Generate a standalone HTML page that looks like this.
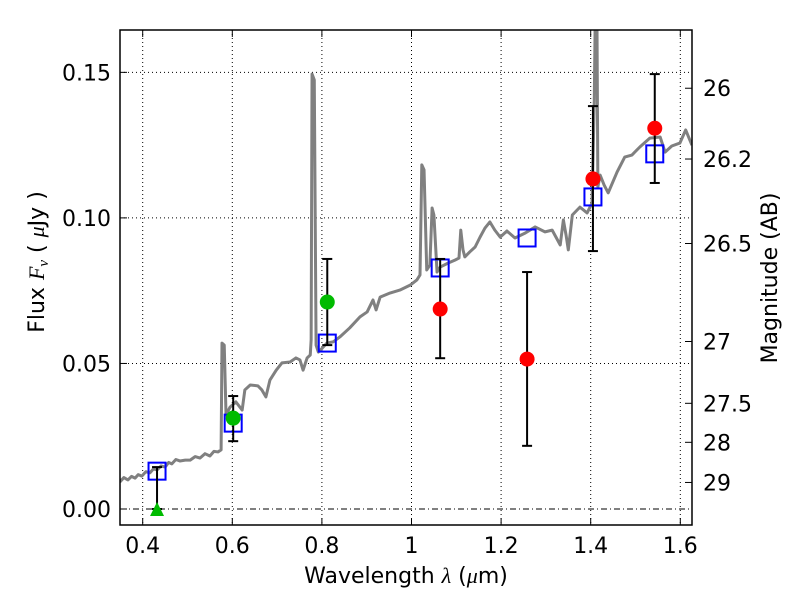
<!DOCTYPE html>
<html><head><meta charset="utf-8"><style>
html,body{margin:0;padding:0;background:#fff;}
svg{display:block;font-family:"DejaVu Sans","Liberation Sans",sans-serif;}
</style></head><body>
<svg id="chart" width="800" height="600" viewBox="0 0 800 600" xmlns="http://www.w3.org/2000/svg">
<defs><clipPath id="pc"><rect x="120" y="30" width="572" height="495"/></clipPath></defs>
<rect x="0" y="0" width="800" height="600" fill="#fff"/>
<g id="grid"></g>
<g id="plot" clip-path="url(#pc)"></g>
<rect x="120" y="30" width="572" height="495" fill="none" stroke="#000" stroke-width="1.5"/>
<g id="axes"></g>
<text x="406" y="583" font-size="22" text-anchor="middle">Wavelength  <tspan font-family="Liberation Serif,serif" font-style="italic">λ</tspan> (<tspan font-family="Liberation Serif,serif" font-style="italic">μ</tspan>m)</text>
<text transform="translate(44,262) rotate(-90)" font-size="22" text-anchor="middle">Flux  <tspan font-family="Liberation Serif,serif" font-style="italic">F<tspan font-size="15" dy="4">ν</tspan></tspan><tspan dy="-4">  (  </tspan><tspan font-family="Liberation Serif,serif" font-style="italic">μ</tspan>Jy )</text>
<text transform="translate(777,278) rotate(-90)" font-size="22" text-anchor="middle">Magnitude (AB)</text>
</svg>
<script>
const specLam=[0.349,0.358,0.367,0.375,0.383,0.390,0.398,0.407,0.416,0.424,0.432,0.441,0.450,0.458,0.465,0.474,0.483,0.495,0.506,0.517,0.528,0.539,0.550,0.559,0.568,0.575,0.577,0.582,0.586,0.595,0.608,0.622,0.628,0.640,0.657,0.666,0.675,0.684,0.698,0.711,0.729,0.742,0.751,0.758,0.767,0.774,0.776,0.778,0.783,0.787,0.792,0.801,0.811,0.825,0.840,0.862,0.885,0.901,0.914,0.921,0.930,0.952,0.974,0.997,1.012,1.019,1.023,1.028,1.034,1.041,1.046,1.050,1.057,1.064,1.082,1.097,1.106,1.110,1.115,1.119,1.130,1.142,1.153,1.164,1.175,1.186,1.198,1.213,1.231,1.254,1.276,1.298,1.314,1.332,1.339,1.345,1.350,1.359,1.376,1.392,1.403,1.408,1.410,1.414,1.416,1.421,1.430,1.439,1.459,1.476,1.492,1.510,1.532,1.555,1.566,1.581,1.599,1.612,1.626];
const specFlux=[0.0093,0.0108,0.0100,0.0112,0.0106,0.0118,0.0113,0.0128,0.0124,0.0138,0.0134,0.0148,0.0144,0.0160,0.0155,0.0170,0.0165,0.0168,0.0168,0.0180,0.0175,0.0190,0.0182,0.0198,0.0196,0.0203,0.0570,0.0563,0.0323,0.0350,0.0368,0.0340,0.0409,0.0426,0.0423,0.0409,0.0385,0.0443,0.0477,0.0502,0.0505,0.0519,0.0512,0.0477,0.0519,0.0529,0.0581,0.1494,0.1474,0.0563,0.0539,0.0553,0.0570,0.0574,0.0591,0.0622,0.0660,0.0677,0.0718,0.0684,0.0728,0.0742,0.0752,0.0769,0.0787,0.0804,0.1182,0.1165,0.0821,0.0838,0.1034,0.1010,0.0814,0.0831,0.0845,0.0855,0.0862,0.0958,0.0890,0.0866,0.0883,0.0900,0.0934,0.0965,0.0986,0.0958,0.0934,0.0955,0.0931,0.0948,0.0969,0.0952,0.0958,0.0907,0.0993,0.0941,0.0890,0.1010,0.1037,0.1017,0.1051,0.1405,0.168,0.168,0.1106,0.1147,0.1113,0.1086,0.1158,0.1209,0.1216,0.1244,0.1274,0.1278,0.1226,0.1247,0.1257,0.1302,0.1250];
const modelLam=[0.432,0.602,0.812,1.064,1.258,1.405,1.543];
const modelFlux=[0.0130,0.0295,0.0570,0.0828,0.0931,0.1072,0.1220];
const greenLam=[0.602,0.812];
const greenFlux=[0.0312,0.0711];
const greenLo=[0.0233,0.0563];
const greenHi=[0.0388,0.0859];
const redLam=[1.064,1.258,1.405,1.543];
const redFlux=[0.0687,0.0515,0.1134,0.1308];
const redLo=[0.0518,0.0217,0.0886,0.1120];
const redHi=[0.0859,0.0814,0.1384,0.1494];
const limLam=[0.432];
const limFlux=[0.0];
const limHi=[0.0144];
const xTicks=[0.4,0.6,0.8,1.0,1.2,1.4,1.6];
const xTickLabels=["0.4","0.6","0.8","1","1.2","1.4","1.6"];
const yTicks=[0,0.05,0.10,0.15];
const yTickLabels=["0.00","0.05","0.10","0.15"];
const magTicks=[26,26.2,26.5,27,27.5,28,29];
const magTickLabels=["26","26.2","26.5","27","27.5","28","29"];

const NS="http://www.w3.org/2000/svg";
const X=v=>142.7+(v-0.4)*448;
const Y=v=>509-v*2911;
const magToFlux=m=>Math.pow(10,(23.9-m)/2.5);
function mk(tag,attrs,parent){const e=document.createElementNS(NS,tag);for(const k in attrs)e.setAttribute(k,attrs[k]);parent.appendChild(e);return e;}
const grid=document.getElementById('grid'),plot=document.getElementById('plot'),axes=document.getElementById('axes');

xTicks.forEach((t,i)=>{
  const g=mk('line',{x1:X(t),x2:X(t),y1:30,y2:525,stroke:'#000','stroke-width':1,'stroke-dasharray':'1,3'},grid);
  
  
  mk('line',{x1:X(t),x2:X(t),y1:525,y2:518,stroke:'#000'},axes);
  mk('line',{x1:X(t),x2:X(t),y1:30,y2:37,stroke:'#000'},axes);
  const tx=mk('text',{x:X(t),y:553,'font-size':22,'text-anchor':'middle'},axes);
  tx.textContent=xTickLabels[i];
  
  
});
yTicks.forEach((t,i)=>{
  const g=mk('line',{x1:120,x2:692,y1:Y(t),y2:Y(t),stroke:'#000','stroke-width':1,'stroke-dasharray':t===0?'6,3,1,3':'1,3'},grid);
  
  
  mk('line',{x1:120,x2:127,y1:Y(t),y2:Y(t),stroke:'#000'},axes);
  const tx=mk('text',{x:111,y:Y(t)+8,'font-size':22,'text-anchor':'end'},axes);
  tx.textContent=yTickLabels[i];
  
  
});
magTicks.forEach((m,i)=>{
  const y=Y(magToFlux(m));
  mk('line',{x1:692,x2:685,y1:y,y2:y,stroke:'#000'},axes);
  const tx=mk('text',{x:703,y:y+8,'font-size':22},axes);
  tx.textContent=magTickLabels[i];
  
  
});

const sp=mk('polyline',{points:specLam.map((l,i)=>X(l)+','+Y(specFlux[i])).join(' '),fill:'none',stroke:'#808080','stroke-width':3,'stroke-linejoin':'round'},plot);



function errbar(x,lo,hi,name){
  const g=mk('g',{stroke:'#000','stroke-width':2},plot);
  
  
  mk('line',{x1:x,x2:x,y1:Y(lo),y2:Y(hi)},g);
  mk('line',{x1:x-5,x2:x+5,y1:Y(lo),y2:Y(lo)},g);
  mk('line',{x1:x-5,x2:x+5,y1:Y(hi),y2:Y(hi)},g);
}
modelLam.forEach((l,i)=>{
  const r=mk('rect',{x:X(l)-8.5,y:Y(modelFlux[i])-8.5,width:17,height:17,fill:'none',stroke:'#0000ff','stroke-width':2},plot);
  
  
});
limLam.forEach((l,i)=>{
  errbar(X(l),limFlux[i],limHi[i],'upper-limit-errorbar');
  const x=X(l),y=Y(limFlux[i]);
  const p=mk('polygon',{points:`${x-7},${y+7} ${x+7},${y+7} ${x},${y-7}`,fill:'#00bb00'},plot);
  
  
});
greenLam.forEach((l,i)=>{
  errbar(X(l),greenLo[i],greenHi[i],'green-errorbar');
  const c=mk('circle',{cx:X(l),cy:Y(greenFlux[i]),r:7.5,fill:'#00bb00'},plot);
  
  
});
redLam.forEach((l,i)=>{
  errbar(X(l),redLo[i],redHi[i],'red-errorbar');
  const c=mk('circle',{cx:X(l),cy:Y(redFlux[i]),r:7.5,fill:'#ff0000'},plot);
  
  
});
</script>
</body></html>
